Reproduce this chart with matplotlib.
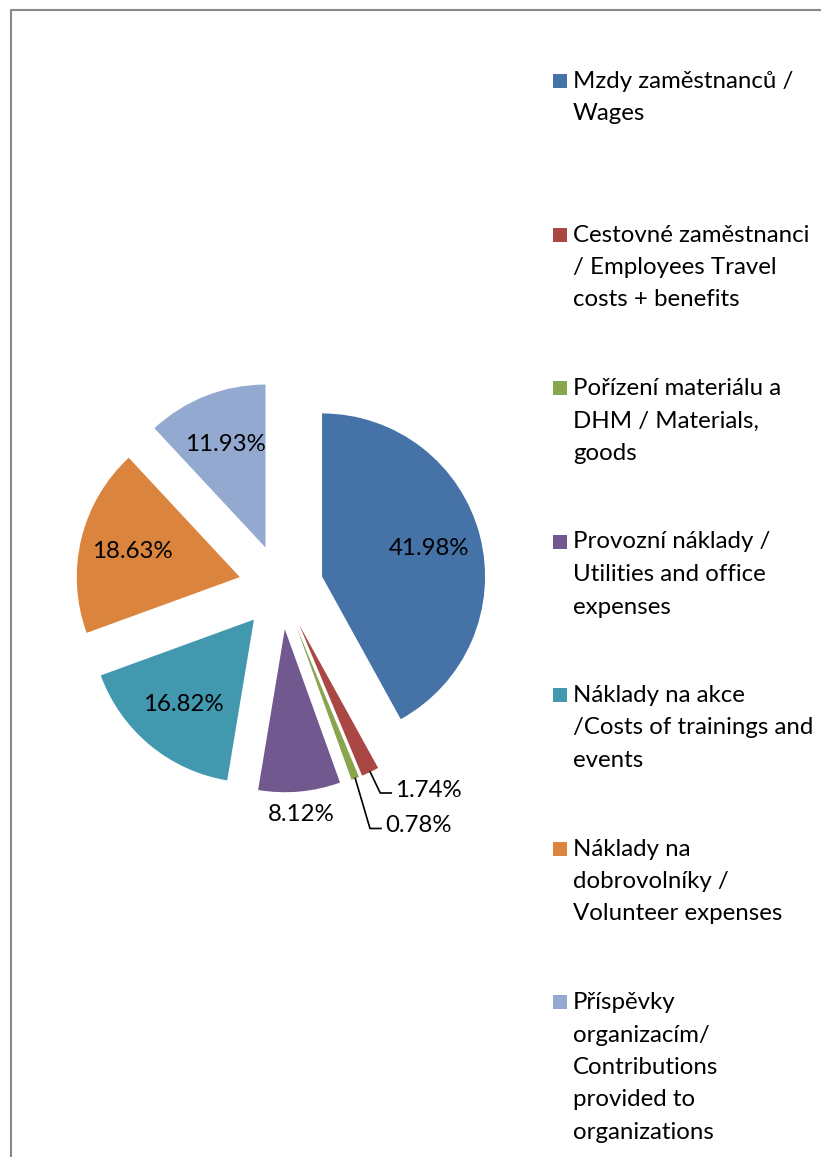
import numpy as np
import matplotlib.pyplot as plt
from matplotlib.patches import Rectangle

# chart data
categories = [
    "Mzdy zaměstnanců /\nWages",
    "Cestovné zaměstnanci\n/ Employees Travel\ncosts + benefits",
    "Pořízení materiálu a\nDHM / Materials,\ngoods",
    "Provozní náklady /\nUtilities and office\nexpenses",
    "Náklady na akce\n/Costs of trainings and\nevents",
    "Náklady na\ndobrovolníky /\nVolunteer expenses",
    "Příspěvky\norganizacím/\nContributions\nprovided to\norganizations",
]
shares = [41.98, 1.74, 0.78, 8.12, 16.82, 18.63, 11.93]
colors = ['#4572A7', '#AA4643', '#89A54E', '#71588F', '#4198AF', '#DB843D', '#93A9CF']

plt.rcParams['font.family'] = ['Lato', 'DejaVu Sans']
FS = 17.3

W, H = 821, 1157
fig = plt.figure(figsize=(W / 100, H / 100), dpi=100)
ax = fig.add_axes([0, 0, 1, 1])


def py(y):
    # pixel row (from top) -> data y (from bottom)
    return H - y


R = 163
wedges, _ = ax.pie(shares, colors=colors, startangle=90, counterclock=False,
                   explode=[0.26 * R] * len(shares), radius=R,
                   center=(281, py(587)), wedgeprops=dict(linewidth=0))
ax.set_xlim(0, W)
ax.set_ylim(0, H)
ax.axis('off')

# percentage labels
for i, w in enumerate(wedges):
    mid = np.deg2rad((w.theta1 + w.theta2) / 2)
    cx, cy = w.center
    d = np.array([np.cos(mid), np.sin(mid)])
    lab = f"{shares[i]:.2f}%"
    if i in (1, 2):
        tip = np.array([cx, cy]) + w.r * d
        drop = 21 if i == 1 else 50
        elbow = tip + np.array([drop * d[0] / abs(d[1]) * 0.5 + 5, -drop])
        end = elbow + np.array([11, 0])
        ax.plot([tip[0], elbow[0], end[0]], [tip[1], elbow[1], end[1]],
                color='black', lw=1.2)
        ax.text(end[0] + 4, end[1] + 3, lab, ha='left', va='center', fontsize=FS)
    else:
        k = 1.14 if i == 3 else 0.68
        ax.text(cx + k * w.r * d[0], cy + k * w.r * d[1], lab,
                ha='center', va='center', fontsize=FS)

# legend drawn by hand: entries are evenly spaced by their first line
for i, (cat, col) in enumerate(zip(categories, colors)):
    base = 88 + 153.5 * i
    ax.add_patch(Rectangle((553, py(base)), 14, 14, facecolor=col, edgecolor='none'))
    for j, line in enumerate(cat.split('\n')):
        ax.text(573, py(base + 32.5 * j), line, ha='left', va='baseline', fontsize=FS)

# chart area frame (cut off at right and bottom)
ax.plot([10.5, 10.5, W + 5], [py(H + 5), py(9.5), py(9.5)],
        color='#888888', lw=1.5, clip_on=False)

fig.savefig('out.png', dpi=100)
